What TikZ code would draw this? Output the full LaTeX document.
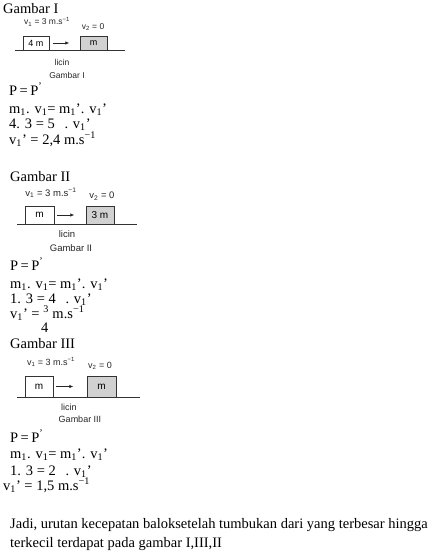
\documentclass[tikz,border=0pt]{standalone}
\usepackage{fontspec}
\setmainfont{Liberation Serif}
\setsansfont{Liberation Sans}
\usetikzlibrary{positioning,arrows.meta}

\tikzset{
  blok/.style={draw=black!80, line width=0.6pt, inner sep=0pt, font=\sffamily\fontsize{#1}{#1}\selectfont},
  blok/.default=9,
  blokabu/.style={blok=#1, fill=black!18},
  blokabu/.default=9,
  ket/.style={inner sep=0pt, text=black!85, font=\sffamily\fontsize{#1}{#1}\selectfont},
  ket/.default=8.5,
  teks/.style={anchor=base west, inner sep=0pt, font=\fontsize{14.5}{14.5}\selectfont},
  lantai/.style={draw=black!80, line width=0.7pt},
  panah/.style={-{Latex[length=4pt,width=3.5pt]}, line width=0.7pt, black!85}
}

\begin{document}
\begin{tikzpicture}[x=1pt,y=-1pt]
\useasboundingbox (0,0) rectangle (443,552);
%----------------------------------
\node[teks] (judul1) at (3,13) {Gambar I};
\node[blok, minimum width=26pt, minimum height=14pt] (b1a) at (36,43) {4 m};
\node[blokabu, minimum width=27pt, minimum height=14pt] (b1b) at (93.5,43) {m};
\coordinate (g1a) at (15,50); \coordinate (g1b) at (125,50);
\coordinate [right=4pt of b1a] (a1s); \coordinate [right=16pt of a1s] (a1e);
\node[ket] (v1a) at (47,22) {v\textsubscript{1} = 3 m.s\textsuperscript{−1}};
\node[ket] (v1b) at (93,27) {v\textsubscript{2} = 0};
\node[ket] (licin1) at (62,62) {licin};
\node[ket] (cap1) at (67,75) {Gambar I};
\draw[lantai] (g1a) -- (g1b);
\draw[panah] (a1s) -- (a1e);
%----------------------------------
\node[teks] (p1) at (9,95) {P\,=\,P\textsuperscript{’}};
\node[teks] (m1) at (9,113) {m\textsubscript{1}. v\textsubscript{1}= m\textsubscript{1}’. v\textsubscript{1}’};
\node[teks] (h1) at (9,128) {4. 3 = 5 \ \,. v\textsubscript{1}’};
\node[teks] (r1) at (9,144) {v\textsubscript{1}’ = 2,4 m.s\textsuperscript{−1}};
%----------------------------------
\node[teks] (judul2) at (10,181) {Gambar II};
\node[blok=10, minimum width=29pt, minimum height=18pt] (b2a) at (39.5,215) {m};
\node[blokabu=10, minimum width=28pt, minimum height=18pt] (b2b) at (100,215) {3 m};
\coordinate (g2a) at (17,224); \coordinate (g2b) at (137,224);
\coordinate [right=3pt of b2a] (a2s); \coordinate [right=17pt of a2s] (a2e);
\node[ket=9.5] (v2a) at (51,193) {v\textsubscript{1} = 3 m.s\textsuperscript{−1}};
\node[ket=9.5] (v2b) at (102,196) {v\textsubscript{2} = 0};
\node[ket=9.5] (licin2) at (67,234) {licin};
\node[ket=9.5] (cap2) at (71,248) {Gambar II};
\draw[lantai] (g2a) -- (g2b);
\draw[panah] (a2s) -- (a2e);
%----------------------------------
\node[teks] (p2) at (10,270) {P\,=\,P\textsuperscript{’}};
\node[teks] (m2) at (10,288) {m\textsubscript{1}. v\textsubscript{1}= m\textsubscript{1}’. v\textsubscript{1}’};
\node[teks] (h2) at (10,303) {1. 3 = 4 \ \,. v\textsubscript{1}’};
\node[teks] (r2) at (10,318) {v\textsubscript{1}’ = \textsuperscript{3} m.s\textsuperscript{−1}};
\node[teks] (pecah2) at (41,332) {4};
%----------------------------------
\node[teks] (judul3) at (10,348) {Gambar III};
\node[blok=10, minimum width=28pt, minimum height=21pt] (b3a) at (39,386.5) {m};
\node[blokabu=10, minimum width=29pt, minimum height=21pt] (b3b) at (101.5,386.5) {m};
\coordinate (g3a) at (17,397); \coordinate (g3b) at (140,397);
\coordinate [right=3pt of b3a] (a3s); \coordinate [right=17pt of a3s] (a3e);
\node[ket=9] (v3a) at (51,362) {v\textsubscript{1} = 3 m.s\textsuperscript{−1}};
\node[ket=9] (v3b) at (100,366) {v\textsubscript{2} = 0};
\node[ket=9] (licin3) at (69,407) {licin};
\node[ket=9] (cap3) at (80,419) {Gambar III};
\draw[lantai] (g3a) -- (g3b);
\draw[panah] (a3s) -- (a3e);
%----------------------------------
\node[teks] (p3) at (10,442) {P\,=\,P\textsuperscript{’}};
\node[teks] (m3) at (10,458) {m\textsubscript{1}. v\textsubscript{1}= m\textsubscript{1}’. v\textsubscript{1}’};
\node[teks] (h3) at (10,475) {1. 3 = 2 \ \,. v\textsubscript{1}’};
\node[teks] (r3) at (3,490) {v\textsubscript{1}’ = 1,5 m.s\textsuperscript{−1}};
%----------------------------------
\node[teks] (jadi1) at (10,528) {Jadi, urutan kecepatan baloksetelah tumbukan dari yang terbesar hingga};
\node[teks] (jadi2) at (10,547) {terkecil terdapat pada gambar I,III,II};
\end{tikzpicture}
\end{document}
